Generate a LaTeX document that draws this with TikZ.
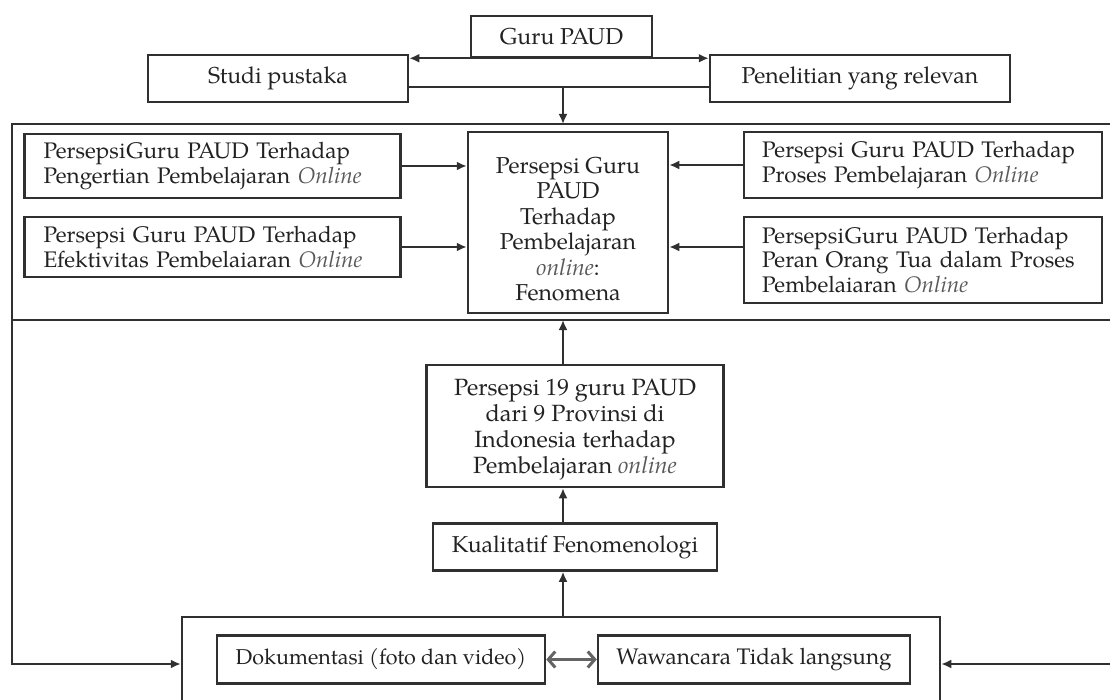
\documentclass[tikz,border=0pt]{standalone}
\usepackage{fontspec}
\setmainfont{texgyrepagella}[Extension=.otf, UprightFont=*-regular, ItalicFont=*-italic, BoldFont=*-bold, BoldItalicFont=*-bolditalic]
\usetikzlibrary{arrows.meta,calc}
\definecolor{ln}{HTML}{303030}
\definecolor{tx}{HTML}{222222}
\definecolor{it}{HTML}{5a5a5a}
\newcommand\jl[2]{\makebox[#1][s]{#2}}
\newcommand\onl[1]{\textcolor{it}{\textit{#1}}}
\tikzset{
  box/.style={draw=ln, line width=2.5pt, rectangle, inner sep=0pt, text=tx,
              font=\fontsize{23}{25.5}\selectfont, align=center},
  lbox/.style={box, align=left, text width=338pt, inner xsep=19pt, font=\fontsize{22.5}{24.5}\selectfont},
  rbox/.style={box, align=left, text width=322pt, inner xsep=18pt, font=\fontsize{22.5}{24.5}\selectfont},
  plain/.style={inner sep=0pt, text=tx, align=center, font=\fontsize{23}{25.5}\selectfont},
  ln/.style={draw=ln, line width=2.2pt},
  arr/.style={ln, -{Latex[length=10pt,width=9pt]}},
  arrboth/.style={ln, {Latex[length=10pt,width=9pt]}-{Latex[length=10pt,width=9pt]}},
  dbl/.style={draw=ln!75, line width=3pt,
              {Straight Barb[length=7pt,width=16pt]}-{Straight Barb[length=7pt,width=16pt]}}
}
\begin{document}
\begin{tikzpicture}[x=1pt,y=-1pt]
\useasboundingbox[fill=white] (0,0) rectangle (1110,700);

% top row
\node[box, minimum width=181pt, minimum height=41pt] (guru) at (561.5,36.5) {Guru PAUD};
\node[box, minimum width=260pt, minimum height=47pt] (studi) at (278,78.5) {Studi pustaka};
\node[box, minimum width=300pt, minimum height=47pt] (pen) at (860,78.5) {Penelitian yang relevan};

% upper section
\node[lbox, minimum height=64pt] (L1) at (212.5,166)
  {\mbox{Persepsi\hspace{1pt}Guru PAUD Terhadap}\\ \mbox{Pengertian Pembelajaran \onl{Online}}};
\node[lbox, minimum height=60pt] (L2) at (212.5,247)
  {\jl{338pt}{Persepsi Guru PAUD Terhadap}\\ \mbox{Efektivitas Pembelaiaran \onl{Online}}};
\node[box, minimum width=200pt, minimum height=181pt] (C) at (568,222.5) {};
\node[plain] (Ct) at (568,229)
  {Persepsi Guru\\ PAUD\\ Terhadap\\ Pembelajaran\\ \onl{online}:\\ Fenomena};
\node[rbox, minimum height=66pt] (R1) at (923,165)
  {\jl{322pt}{Persepsi Guru PAUD Terhadap}\\ \mbox{Proses Pembelajaran \onl{Online}}};
\node[rbox, minimum height=86pt] (R2) at (923,260)
  {\mbox{Persepsi\hspace{1pt}Guru PAUD Terhadap}\\ \mbox{Peran Orang Tua dalam Proses}\\ \mbox{Pembelaiaran \onl{Online}}};

% lower section
\node[box, minimum width=297pt, minimum height=122pt] (P19) at (575,426) {};
\node[plain, font=\fontsize{23.5}{26}\selectfont] (P19t) at (575,430)
  {Persepsi 19 guru PAUD\\ dari 9 Provinsi di\\ Indonesia terhadap\\ Pembelajaran \onl{online}};
\node[box, minimum width=284pt, minimum height=47pt] (kual) at (575,547) {Kualitatif Fenomenologi};
\node[box, minimum width=758pt, minimum height=88pt] (bot) at (561,661) {};
\node[box, minimum width=328pt, minimum height=48pt, font=\fontsize{21.5}{24}\selectfont] (dok) at (381,659.5) {Dokumentasi (foto dan video)};
\node[box, minimum width=312pt, minimum height=48pt, font=\fontsize{22.5}{24}\selectfont] (waw) at (754,659.5) {Wawancara Tidak langsung};

% coordinates
\coordinate (band) at (563,87);
\coordinate (ftop) at (563,124);
\coordinate (fl) at (12,124);
\coordinate (fr) at (1110,124);
\coordinate (sl) at (12,320);
\coordinate (sr) at (1110,320);
\coordinate (sm) at (563,320);
\coordinate (lowl) at (12,664);
\coordinate (lowr) at (1110,664);

% connectors
\draw[arrboth] (guru.south -| studi.east) -- (guru.south -| pen.west);
\draw[ln] (band -| studi.east) -- (band -| pen.west);
\draw[arr] (band) -- (ftop);
\draw[arr] (fr) -- (fl) -- (lowl) -- (lowl -| bot.west);
\draw[ln] (sl) -- (sr);
\draw[arr] (lowr) -- (lowr -| bot.east);
\draw[arr] (L1.east) -- (L1.east -| C.west);
\draw[arr] (L2.east) -- (L2.east -| C.west);
\draw[arr] (R1.west) -- (R1.west -| C.east);
\draw[arr] (R2.west |- L2.east) -- (C.east |- L2.east);
\draw[arr] (P19.north -| sm) -- (sm);
\draw[arr] (kual.north -| sm) -- (P19.south -| sm);
\draw[arr] (bot.north -| sm) -- (kual.south -| sm);
\draw[dbl] (dok.east) -- (waw.west);
\end{tikzpicture}
\end{document}
